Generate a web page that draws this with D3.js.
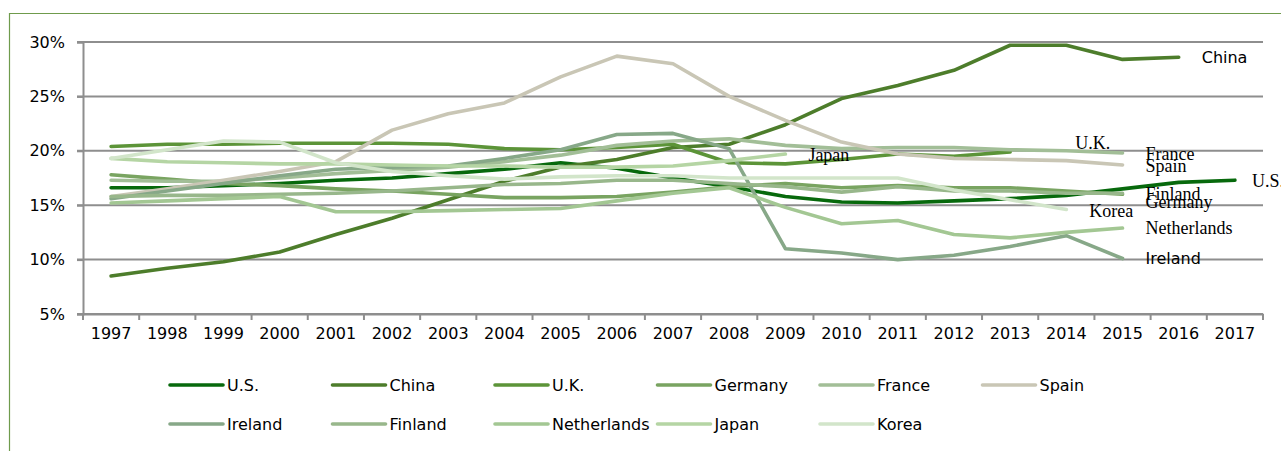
<!DOCTYPE html>
<html>
<head>
<meta charset="utf-8">
<script src="https://cdn.jsdelivr.net/npm/d3@7/dist/d3.min.js"></script>
<style>
  html, body { margin: 0; padding: 0; background: #fff; }
  svg { display: block; }
</style>
</head>
<body>
<svg id="chart" width="1281" height="451"></svg>
<script>
// ---- data ----
const years = ["1997","1998","1999","2000","2001","2002","2003","2004","2005","2006","2007",
               "2008","2009","2010","2011","2012","2013","2014","2015","2016","2017"];
const yTicks = [5, 10, 15, 20, 25, 30];

const usValues      = [16.6,16.6,16.8,17.0,17.3,17.5,17.9,18.3,18.9,18.4,17.5,16.7,15.8,15.3,15.2,15.4,15.6,15.9,16.5,17.1,17.3];
const chinaValues   = [8.5,9.2,9.8,10.7,12.3,13.8,15.5,17.2,18.5,19.2,20.3,20.6,22.4,24.8,26.0,27.4,29.7,29.7,28.4,28.6,null];
const ukValues      = [20.4,20.6,20.6,20.7,20.7,20.7,20.6,20.2,20.1,20.3,20.6,18.9,18.8,19.2,19.7,19.5,19.9,null,null,null,null];
const germanyValues = [17.8,17.4,17.0,16.8,16.5,16.3,16.0,15.7,15.7,15.8,16.2,16.7,17.0,16.6,16.8,16.6,16.6,16.3,16.0,null,null];
const franceValues  = [17.3,17.2,17.2,17.5,17.9,18.2,18.5,19.0,19.6,20.5,20.9,21.1,20.5,20.2,20.3,20.3,20.1,20.0,19.8,null,null];
const spainValues   = [15.8,16.5,17.3,18.1,19.0,21.9,23.4,24.4,26.8,28.7,28.0,25.0,22.8,20.8,19.7,19.3,19.2,19.1,18.7,null,null];
const irelandValues = [15.6,16.3,17.0,17.7,18.3,18.5,18.6,19.3,20.1,21.5,21.6,20.2,11.0,10.6,10.0,10.4,11.2,12.2,10.1,null,null];
const finlandValues = [15.8,15.9,15.9,16.0,16.1,16.3,16.6,16.9,17.0,17.3,17.3,17.0,16.7,16.2,16.7,16.3,16.3,16.1,16.1,null,null];
const netherlandsValues = [15.2,15.4,15.6,15.8,14.4,14.4,14.5,14.6,14.7,15.4,16.1,16.6,14.8,13.3,13.6,12.3,12.0,12.5,12.9,null,null];
const japanValues   = [19.3,19.0,18.9,18.8,18.8,18.7,18.6,18.6,18.5,18.5,18.6,19.1,19.7,null,null,null,null,null,null,null,null];
const koreaValues   = [19.3,20.1,20.9,20.8,18.9,18.1,17.7,17.4,17.6,17.7,17.7,17.5,17.5,17.5,17.5,16.4,15.5,14.6,null,null,null];

const seriesNames = ["U.S.","China","U.K.","Germany","France","Spain","Ireland","Finland","Netherlands","Japan","Korea"];
const seriesValues = [usValues, chinaValues, ukValues, germanyValues, franceValues, spainValues,
                      irelandValues, finlandValues, netherlandsValues, japanValues, koreaValues];

// ---- styles ----
const colors = {
  "U.S.": "#07690c", "China": "#4d7d2b", "U.K.": "#5c9438", "Germany": "#79a461",
  "France": "#a2be97", "Spain": "#c9c6b5", "Ireland": "#87a888", "Finland": "#98b78b",
  "Netherlands": "#a3c793", "Japan": "#b5d5a4", "Korea": "#d2e5ca"
};
const SANS = "'DejaVu Sans', sans-serif";
const SERIF = "'Liberation Serif', 'Times New Roman', serif";
// end-label placement relative to the last point of each series
const labelStyle = {
  "China":       {dx: 23, dy: 0,  sans: true},
  "U.K.":        {dx: 65, dy: -9, sans: false},
  "France":      {dx: 23, dy: 1,  sans: false},
  "Spain":       {dx: 23, dy: 1,  sans: false},
  "U.S.":        {dx: 17, dy: 1,  sans: false},
  "Finland":     {dx: 23, dy: 0,  sans: false},
  "Germany":     {dx: 23, dy: 7,  sans: false},
  "Korea":       {dx: 23, dy: 1,  sans: false},
  "Netherlands": {dx: 23, dy: 0,  sans: false},
  "Ireland":     {dx: 23, dy: 0,  sans: true},
  "Japan":       {dx: 23, dy: 1,  sans: false}
};

const svg = d3.select("#chart");
const plotLeft = 83, plotRight = 1263, plotTop = 42, plotBottom = 314;

const x = d3.scaleBand().domain(years).range([plotLeft, plotRight]).padding(0);
const y = d3.scaleLinear().domain([5, 30]).range([plotBottom, plotTop]);
const cx = d => x(d) + x.bandwidth() / 2;

// frame
svg.append("path")
  .attr("d", `M9.5,451 L9.5,13.5 L1281,13.5`)
  .attr("fill", "none").attr("stroke", "#6f9b4c").attr("stroke-width", 1.2);

// gridlines
svg.append("g").selectAll("line").data(yTicks).join("line")
  .attr("x1", plotLeft - 6).attr("x2", plotRight)
  .attr("y1", d => y(d)).attr("y2", d => y(d))
  .attr("stroke", "#8e8e8e").attr("stroke-width", 2);

// y axis
const yAxis = svg.append("g").attr("transform", `translate(${plotLeft},0)`)
  .call(d3.axisLeft(y).tickValues(yTicks).tickFormat(d => d + "%").tickSize(6).tickPadding(12));
yAxis.select(".domain").attr("stroke", "#8e8e8e").attr("stroke-width", 2);
yAxis.selectAll(".tick line").attr("stroke", "#8e8e8e").attr("stroke-width", 2);
yAxis.selectAll("text").style("font-size", "16px").style("font-family", SANS).attr("fill", "#000");

// x axis
const xAxis = svg.append("g").attr("transform", `translate(0,${plotBottom})`)
  .call(d3.axisBottom(x).tickSize(0).tickPadding(14));
xAxis.select(".domain").attr("stroke", "#8e8e8e").attr("stroke-width", 2);
xAxis.selectAll("text").style("font-size", "16px").style("font-family", SANS).attr("fill", "#000");
const bounds = years.map(d => x(d)).concat([plotRight]);
svg.append("g").selectAll("line").data(bounds).join("line")
  .attr("x1", d => d).attr("x2", d => d)
  .attr("y1", plotBottom).attr("y2", plotBottom + 6)
  .attr("stroke", "#8e8e8e").attr("stroke-width", 2);

// lines
const line = d3.line()
  .defined(d => d.v != null)
  .x(d => cx(d.year)).y(d => y(d.v));

const series = seriesNames.map((name, i) => ({
  name, points: years.map((yr, j) => ({year: yr, v: seriesValues[i][j]}))
}));

svg.append("g").selectAll("path").data(series).join("path")
  .attr("d", d => line(d.points))
  .attr("fill", "none")
  .attr("stroke", d => colors[d.name])
  .attr("stroke-width", 3.6)
  .attr("stroke-linejoin", "round")
  .attr("stroke-linecap", "round");

// end labels
svg.append("g").selectAll("text").data(series).join("text")
  .each(function(d) {
    const pts = d.points.filter(p => p.v != null);
    const last = pts[pts.length - 1];
    const st = labelStyle[d.name];
    d3.select(this)
      .attr("x", cx(last.year) + st.dx)
      .attr("y", y(last.v) + st.dy)
      .attr("dy", "0.35em")
      .style("font-family", st.sans ? SANS : SERIF)
      .style("font-size", st.sans ? "16px" : "18px")
      .attr("fill", "#000")
      .text(d.name);
  });

// legend
const legendCols = 6, colW = 162.5, legX = 170, rowY = [385, 424];
const lg = svg.append("g").selectAll("g").data(seriesNames).join("g")
  .attr("transform", (d, i) => `translate(${legX + (i % legendCols) * colW},${rowY[Math.floor(i / legendCols)]})`);
lg.append("line").attr("x1", 0).attr("x2", 53).attr("y1", 0).attr("y2", 0)
  .attr("stroke", d => colors[d]).attr("stroke-width", 3.6).attr("stroke-linecap", "round");
lg.append("text").attr("x", 57).attr("y", 0).attr("dy", "0.35em")
  .style("font-size", "16px").style("font-family", SANS).attr("fill", "#000").text(d => d);
</script>
</body>
</html>
